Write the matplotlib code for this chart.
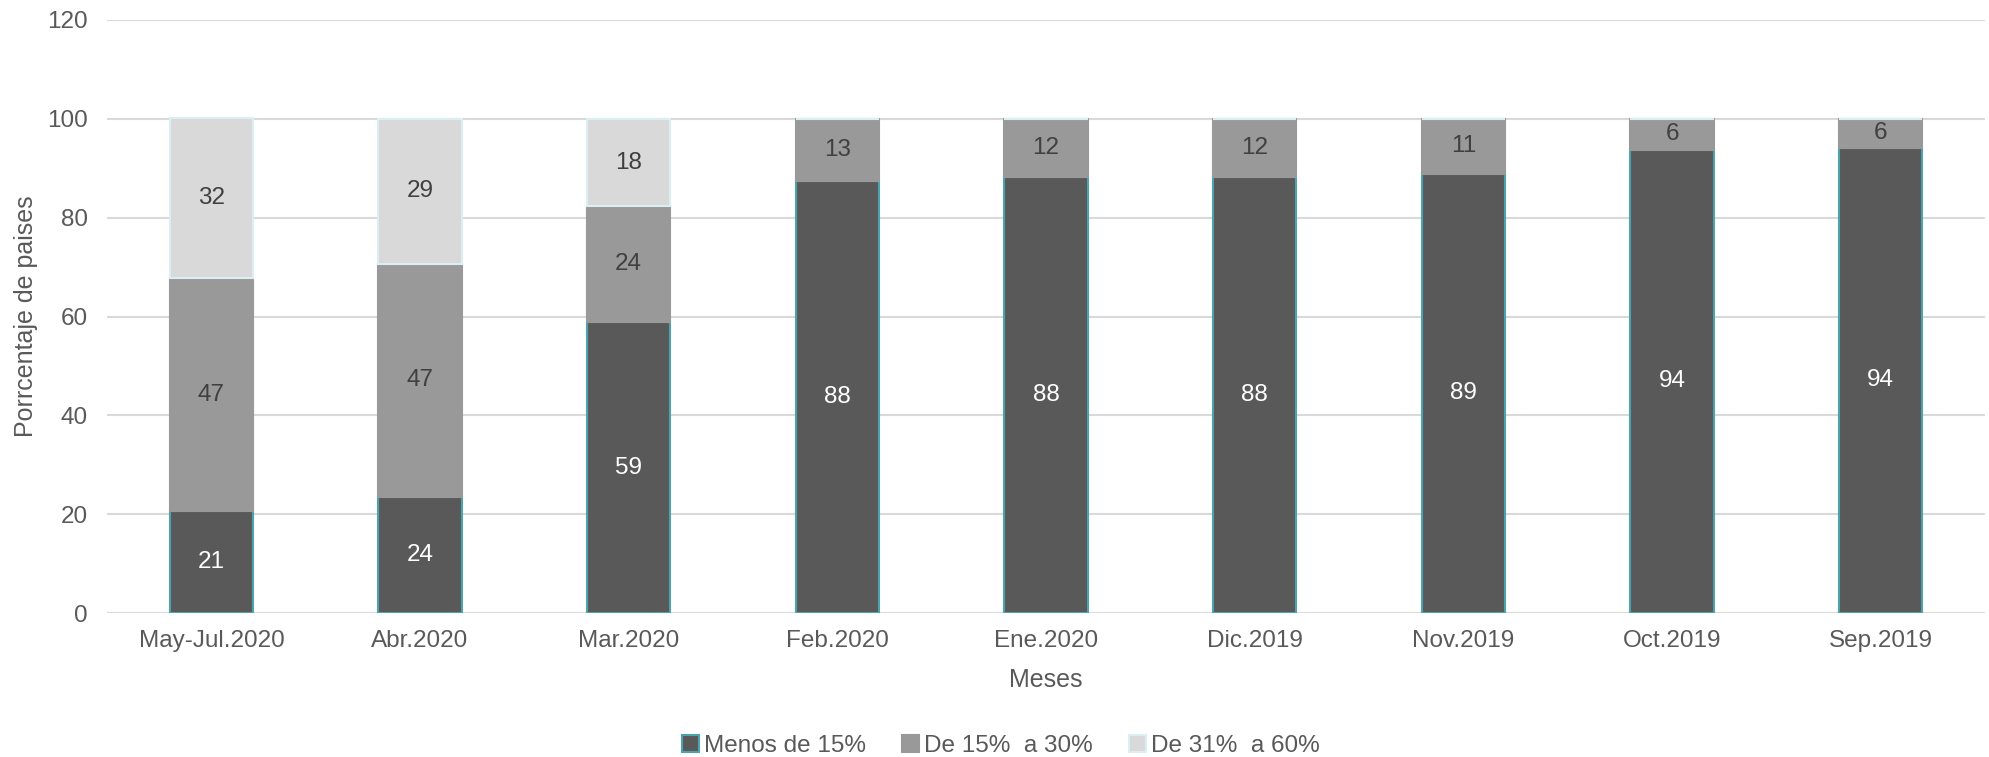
import numpy as np
import matplotlib.pyplot as plt

plt.rcParams['font.family'] = ['Liberation Sans', 'DejaVu Sans']

meses = ['May-Jul.2020', 'Abr.2020', 'Mar.2020', 'Feb.2020', 'Ene.2020',
         'Dic.2019', 'Nov.2019', 'Oct.2019', 'Sep.2019']
menos_15 = [20.6, 23.5, 58.8, 87.5, 88.2, 88.2, 88.9, 93.75, 94.1]
de_15_30 = [47.1, 47.1, 23.5, 12.5, 11.8, 11.8, 11.1, 6.25, 5.9]
de_31_60 = [32.4, 29.4, 17.6, 0, 0, 0, 0, 0, 0]
series_names = ['Menos de 15%', 'De 15%  a 30%', 'De 31%  a 60%']

colores = ['#595959', '#999999', '#d9d9d9']
bordes = ['#4aa3ad', '#999999', '#daeef3']
texto = ['white', '#404040', '#404040']

fig = plt.figure(figsize=(19.9, 7.57), dpi=100)
ax = fig.add_axes([0.0538, 0.1902, 0.9437, 0.7834])

x = np.arange(len(meses))
bottom = np.zeros(len(meses))
for vals, nombre, c, e, t in zip([menos_15, de_15_30, de_31_60], series_names, colores, bordes, texto):
    vals = np.array(vals)
    ax.bar(x, vals, 0.4, bottom=bottom, color=c, edgecolor=e, linewidth=1.5,
           label=nombre, zorder=3)
    for xi, b, v in zip(x, bottom, vals):
        if v > 0:
            # redondeo tipo Excel (mitad hacia arriba)
            ax.text(xi, b + v / 2, str(int(v + 0.5)), ha='center', va='center',
                    color=t, fontsize=17.5, zorder=4)
    bottom = bottom + vals

ax.set_xlim(-0.5, len(meses) - 0.5)
ax.set_ylim(0, 120)
ax.set_yticks(range(0, 121, 20))
ax.set_xticks(x)
ax.set_xticklabels(meses)
ax.yaxis.grid(True, color='#d9d9d9', linewidth=1.5, zorder=0)
for s in ax.spines.values():
    s.set_visible(False)
ax.tick_params(axis='both', length=0, labelsize=17.5, colors='#595959')
ax.tick_params(axis='x', pad=12)
ax.tick_params(axis='y', pad=14)
ax.set_xlabel('Meses', fontsize=18, color='#595959', labelpad=12)
ax.set_ylabel('Porrcentaje de paises', fontsize=18, color='#595959')
ax.yaxis.set_label_coords(-0.037, 0.5)

leg = fig.legend(loc='center', bbox_to_anchor=(0.503, 0.0145), ncol=3, frameon=False,
                 fontsize=17.5, handlelength=0.7, handleheight=0.7, handletextpad=0.2,
                 columnspacing=1.5)
for txt in leg.get_texts():
    txt.set_color('#595959')

fig.savefig('out.png', dpi=100)
